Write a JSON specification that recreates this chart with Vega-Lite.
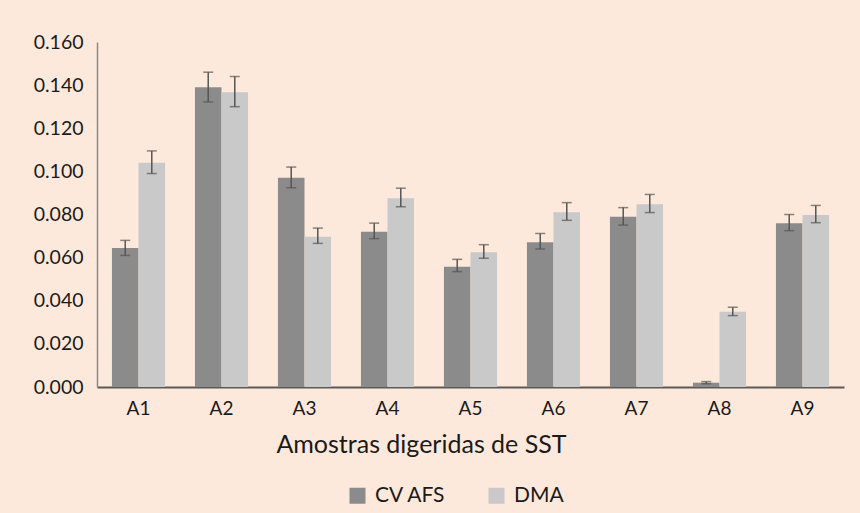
{
  "$schema": "https://vega.github.io/schema/vega-lite/v6.json",
  "autosize": "none",
  "width": 747,
  "height": 345,
  "padding": {"left": 97, "top": 42, "right": 16, "bottom": 126},
  "background": "#fde9db",
  "config": {
    "view": {"stroke": null},
    "font": "Lato",
    "axis": {"labelFont": "Lato", "titleFont": "Lato", "labelColor": "#1a1a1a", "titleColor": "#1a1a1a"},
    "legend": {"labelFont": "Lato"}
  },
  "data": {
    "values": [
      {"sample": "A1", "series": "CV AFS", "value": 0.0645, "lo": 0.0610, "hi": 0.0680},
      {"sample": "A1", "series": "DMA", "value": 0.1040, "lo": 0.0990, "hi": 0.1095},
      {"sample": "A2", "series": "CV AFS", "value": 0.1390, "lo": 0.1322, "hi": 0.1460},
      {"sample": "A2", "series": "DMA", "value": 0.1367, "lo": 0.1300, "hi": 0.1440},
      {"sample": "A3", "series": "CV AFS", "value": 0.0971, "lo": 0.0924, "hi": 0.1020},
      {"sample": "A3", "series": "DMA", "value": 0.0697, "lo": 0.0666, "hi": 0.0737},
      {"sample": "A4", "series": "CV AFS", "value": 0.0720, "lo": 0.0688, "hi": 0.0760},
      {"sample": "A4", "series": "DMA", "value": 0.0875, "lo": 0.0836, "hi": 0.0922},
      {"sample": "A5", "series": "CV AFS", "value": 0.0558, "lo": 0.0535, "hi": 0.0592},
      {"sample": "A5", "series": "DMA", "value": 0.0625, "lo": 0.0597, "hi": 0.0660},
      {"sample": "A6", "series": "CV AFS", "value": 0.0671, "lo": 0.0640, "hi": 0.0712},
      {"sample": "A6", "series": "DMA", "value": 0.0810, "lo": 0.0773, "hi": 0.0855},
      {"sample": "A7", "series": "CV AFS", "value": 0.0790, "lo": 0.0751, "hi": 0.0832},
      {"sample": "A7", "series": "DMA", "value": 0.0847, "lo": 0.0809, "hi": 0.0893},
      {"sample": "A8", "series": "CV AFS", "value": 0.0020, "lo": 0.0015, "hi": 0.0025},
      {"sample": "A8", "series": "DMA", "value": 0.0349, "lo": 0.0331, "hi": 0.0370},
      {"sample": "A9", "series": "CV AFS", "value": 0.0759, "lo": 0.0725, "hi": 0.0800},
      {"sample": "A9", "series": "DMA", "value": 0.0798, "lo": 0.0762, "hi": 0.0842}
    ]
  },
  "encoding": {
    "x": {
      "field": "sample", "type": "nominal",
      "scale": {"paddingInner": 0.36, "paddingOuter": 0.18},
      "axis": {
        "title": "Amostras digeridas de SST", "labelAngle": 0, "labelFontSize": 19,
        "labelPadding": 12, "ticks": false, "domainColor": "#5a5a5a", "domainWidth": 2,
        "titleFontSize": 25, "titleFontWeight": "normal", "titlePadding": 14,
        "titleX": 324, "titleAnchor": null, "titleAlign": "center"
      }
    },
    "xOffset": {"field": "series", "type": "nominal"}
  },
  "layer": [
    {
      "mark": {"type": "bar"},
      "encoding": {
        "y": {
          "field": "value", "type": "quantitative",
          "scale": {"domain": [0, 0.16]},
          "axis": {
            "title": null, "format": ".3f", "values": [0, 0.02, 0.04, 0.06, 0.08, 0.1, 0.12, 0.14, 0.16],
            "labelOverlap": false, "labelBound": false, "labelFlush": false,
            "grid": false, "ticks": false, "labelFontSize": 19.5, "labelPadding": 14,
            "domainColor": "#8a8a8a", "domainWidth": 1.5
          }
        },
        "color": {
          "field": "series", "type": "nominal",
          "scale": {"domain": ["CV AFS", "DMA"], "range": ["#8b8b8b", "#c9c9ca"]},
          "legend": {
            "title": null, "orient": "none", "direction": "horizontal",
            "legendX": 250, "legendY": 443, "symbolType": "square", "symbolSize": 256,
            "symbolStrokeWidth": 0, "labelFontSize": 21, "labelOffset": 7, "columnPadding": 40,
            "labelColor": "#1a1a1a"
          }
        }
      }
    },
    {
      "mark": {"type": "rule", "color": "#555555", "strokeWidth": 1.5},
      "encoding": {
        "y": {"field": "lo", "type": "quantitative"},
        "y2": {"field": "hi"}
      }
    },
    {
      "mark": {"type": "tick", "color": "#555555", "thickness": 1.5, "size": 10},
      "encoding": {"y": {"field": "lo", "type": "quantitative"}}
    },
    {
      "mark": {"type": "tick", "color": "#555555", "thickness": 1.5, "size": 10},
      "encoding": {"y": {"field": "hi", "type": "quantitative"}}
    }
  ]
}
